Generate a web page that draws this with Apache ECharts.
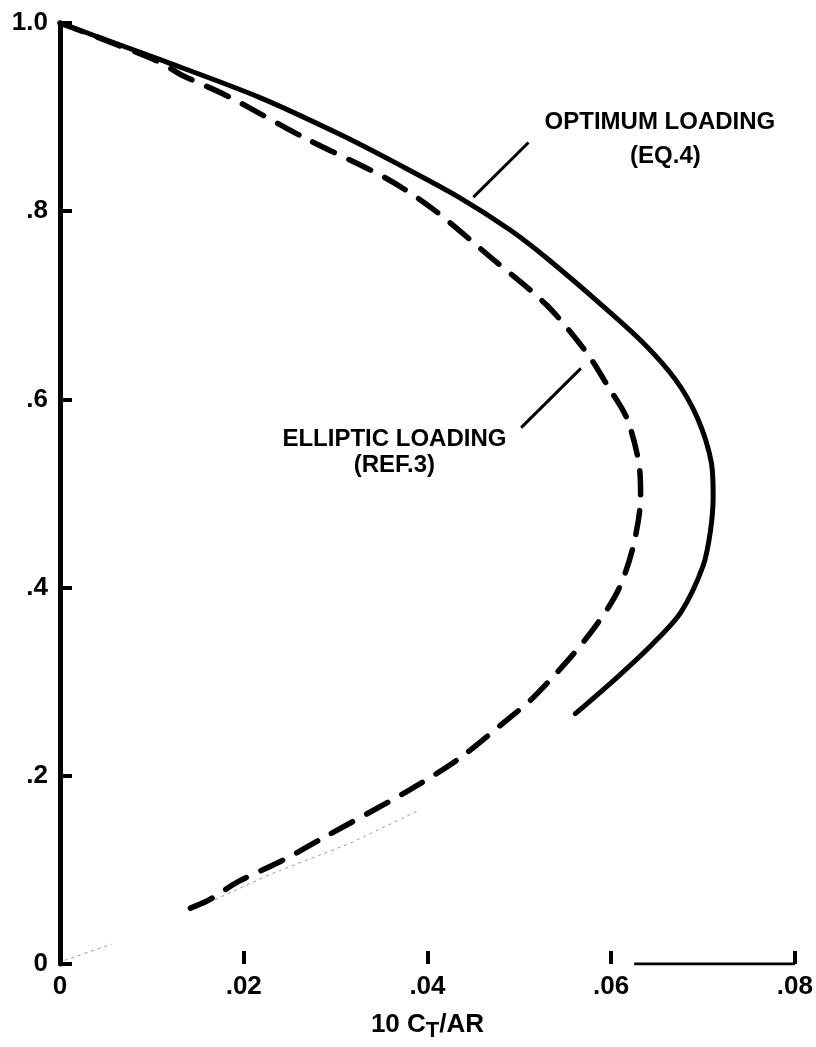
<!DOCTYPE html>
<html>
<head>
<meta charset="utf-8">
<script src="https://cdn.jsdelivr.net/npm/echarts@6/dist/echarts.min.js"></script>
<style>
  html, body { margin: 0; padding: 0; background: #fff; }
  #chart { width: 816px; height: 1047px; }
</style>
</head>
<body>
<div id="chart"></div>
<script>
// Axis ticks and their printed labels
const xTicks = [0, 0.02, 0.04, 0.06, 0.08];
const xTickLabels = ['0', '.02', '.04', '.06', '.08'];
const yTicks = [0, 0.2, 0.4, 0.6, 0.8, 1.0];
const yTickLabels = ['0', '.2', '.4', '.6', '.8', '1.0'];

// Optimum loading (Eq. 4): [10 C_T/AR, ordinate]
const optimumLoading = [
  [0.0000, 1.000], [0.0109, 0.961], [0.0217, 0.921], [0.0304, 0.882],
  [0.0368, 0.850], [0.0434, 0.815], [0.0490, 0.780], [0.0530, 0.750],
  [0.0590, 0.700], [0.0635, 0.660], [0.0670, 0.621], [0.0694, 0.580],
  [0.0709, 0.533], [0.0711, 0.497], [0.0708, 0.460], [0.0700, 0.423],
  [0.0676, 0.374], [0.0645, 0.340], [0.0608, 0.306], [0.0561, 0.266]
];

// Elliptic loading (Ref. 3)
const ellipticLoading = [
  [0.0000, 1.000], [0.0105, 0.960], [0.0134, 0.944], [0.0181, 0.923],
  [0.0268, 0.877], [0.0355, 0.835], [0.0405, 0.803], [0.0470, 0.750],
  [0.0530, 0.700], [0.0573, 0.650], [0.0597, 0.613], [0.0617, 0.580],
  [0.0630, 0.533], [0.0632, 0.497], [0.0624, 0.444], [0.0608, 0.398],
  [0.0583, 0.359], [0.0554, 0.324], [0.0514, 0.282], [0.0491, 0.263],
  [0.0434, 0.218], [0.0377, 0.183], [0.0290, 0.136], [0.0242, 0.110],
  [0.0195, 0.088], [0.0160, 0.067], [0.0130, 0.055]
];

// Faint dotted construction line near the origin
const constructionLine = [
  [0.0005, 0.004], [0.0056, 0.021], null,
  [0.0141, 0.056], [0.0228, 0.095], [0.0315, 0.128], [0.0388, 0.162]
];

// Piece of the abscissa baseline that is drawn
const baselineSegment = [[0.0625, 0], [0.08, 0]];

// Annotations and their leader lines (data units)
const annotationTexts = [
  { name: 'OPTIMUM LOADING', value: [0.0653, 0.894] },
  { name: '(EQ.4)', value: [0.0659, 0.858] },
  { name: 'ELLIPTIC LOADING', value: [0.0364, 0.557] },
  { name: '(REF.3)', value: [0.0364, 0.530] }
];
const optimumLeader = [[0.0510, 0.873], [0.0450, 0.815]];
const ellipticLeader = [[0.0502, 0.570], [0.0567, 0.633]];

const FONT = '"Liberation Sans", Arial, Helvetica, sans-serif';
const INK = '#000';

function tickLabel(ticks, labels) {
  return function (v) {
    for (let i = 0; i < ticks.length; i++) {
      if (Math.abs(ticks[i] - v) < 1e-9) return labels[i];
    }
    return '';
  };
}

const chart = echarts.init(document.getElementById('chart'), null, { renderer: 'canvas' });

chart.setOption({
  backgroundColor: '#fff',
  animation: false,
  grid: { left: 60, right: 19, top: 23, bottom: 81, containLabel: false },
  xAxis: {
    type: 'value',
    min: 0, max: 0.08, interval: 0.02,
    axisLine: { show: false },
    axisTick: { show: true, inside: true, length: 13, lineStyle: { color: INK, width: 4 } },
    splitLine: { show: false },
    axisLabel: {
      margin: 10, color: INK, fontSize: 26, fontWeight: 'bold', fontFamily: FONT,
      formatter: tickLabel(xTicks, xTickLabels)
    },
    name: '{a|10 C}{b|T}{a|/AR}',
    nameLocation: 'middle',
    nameGap: 44,
    nameTextStyle: {
      rich: {
        a: { fontSize: 26, fontWeight: 'bold', fontFamily: FONT, color: INK, lineHeight: 30 },
        b: { fontSize: 22, fontWeight: 'bold', fontFamily: FONT, color: INK, padding: [12, 0, 0, 0] }
      }
    }
  },
  yAxis: {
    type: 'value',
    min: 0, max: 1.0, interval: 0.2,
    axisLine: { show: true, lineStyle: { color: INK, width: 5 } },
    axisTick: { show: true, inside: true, length: 12, lineStyle: { color: INK, width: 4 } },
    splitLine: { show: false },
    axisLabel: {
      margin: 12, color: INK, fontSize: 26, fontWeight: 'bold', fontFamily: FONT,
      formatter: tickLabel(yTicks, yTickLabels)
    }
  },
  series: [
    {
      name: 'construction',
      type: 'line',
      data: constructionLine,
      showSymbol: false,
      connectNulls: false,
      lineStyle: { color: '#9a9a9a', width: 1, type: [3, 4] },
      silent: true
    },
    {
      name: 'baseline',
      type: 'line',
      data: baselineSegment,
      showSymbol: false,
      lineStyle: { color: INK, width: 3 },
      silent: true
    },
    {
      name: 'OPTIMUM LOADING (EQ.4)',
      type: 'line',
      data: optimumLoading,
      smooth: 0.3,
      showSymbol: false,
      lineStyle: { color: INK, width: 5, cap: 'round', join: 'round' },
      silent: true
    },
    {
      name: 'ELLIPTIC LOADING (REF.3)',
      type: 'line',
      data: ellipticLoading,
      smooth: 0.3,
      showSymbol: false,
      lineStyle: { color: INK, width: 5.5, type: [24, 16], cap: 'round', join: 'round' },
      silent: true
    },
    {
      name: 'optimum leader',
      type: 'line',
      data: optimumLeader,
      showSymbol: false,
      lineStyle: { color: INK, width: 3 },
      silent: true
    },
    {
      name: 'elliptic leader',
      type: 'line',
      data: ellipticLeader,
      showSymbol: false,
      lineStyle: { color: INK, width: 3 },
      silent: true
    },
    {
      name: 'annotations',
      type: 'scatter',
      data: annotationTexts,
      symbolSize: 0,
      silent: true,
      itemStyle: { color: INK, opacity: 1 },
      label: {
        show: true,
        position: 'inside',
        formatter: '{b}',
        color: INK,
        opacity: 1,
        textBorderWidth: 0,
        fontSize: 24,
        fontWeight: 'bold',
        fontFamily: FONT
      }
    }
  ]
});
</script>
</body>
</html>
